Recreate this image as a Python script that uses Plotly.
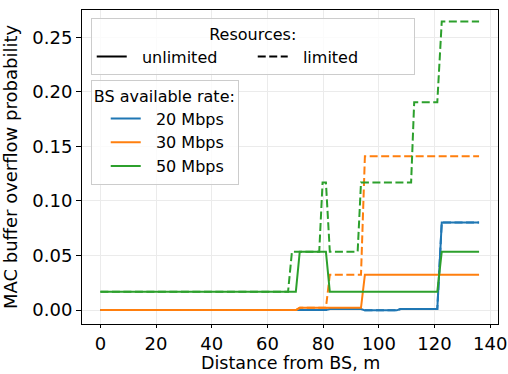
import plotly.graph_objects as go

# ---- data (vertices) ----
x_20_unl = [0, 81.0, 82.4, 93.6, 95.0, 106.4, 107.8, 121.0, 122.6, 136]
y_20_unl = [0, 0, 0.001, 0.001, -0.0003, -0.0003, 0.001, 0.001, 0.0803, 0.0803]
x_20_lim = [0, 81.0, 82.4, 93.6, 95.0, 106.4, 107.8, 121.0, 122.6, 136]
y_20_lim = [0, 0, 0.001, 0.001, -0.0003, -0.0003, 0.001, 0.001, 0.0803, 0.0803]

x_30_unl = [0, 70.2, 71.6, 93.6, 95.0, 136]
y_30_unl = [0, 0, 0.002, 0.002, 0.0324, 0.0324]
x_30_lim = [0, 70.2, 71.6, 81.0, 82.4, 93.6, 95.0, 136]
y_30_lim = [0, 0, 0.002, 0.002, 0.0324, 0.0324, 0.141, 0.141]

x_50_unl = [0, 70.2, 71.6, 81.0, 82.4, 121.0, 122.6, 136]
y_50_unl = [0.0167, 0.0167, 0.0535, 0.0535, 0.0167, 0.0167, 0.0535, 0.0535]
x_50_lim = [0, 67.4, 68.8, 78.6, 79.8, 81.0, 82.4, 92.4, 93.6, 111.6, 112.7, 121.0, 122.6, 136]
y_50_lim = [0.0167, 0.0167, 0.0535, 0.0535, 0.117, 0.117, 0.0535, 0.0535, 0.117, 0.117, 0.1905, 0.1905, 0.2645, 0.2645]

rates = ["20 Mbps", "30 Mbps", "50 Mbps"]
colors = ["#1f77b4", "#ff7f0e", "#2ca02c"]
resources = ["unlimited", "limited"]

x_ticks = [0, 20, 40, 60, 80, 100, 120, 140]
y_ticks = [0.00, 0.05, 0.10, 0.15, 0.20, 0.25]
x_title = "Distance from BS, m"
y_title = "MAC buffer overflow probability"

DASH = "8px,3.5px"
LW = 2
NB = "\u00a0\u00a0"

fig = go.Figure()
series = [
    (x_20_unl, y_20_unl, 0, "solid"), (x_20_lim, y_20_lim, 0, DASH),
    (x_30_unl, y_30_unl, 1, "solid"), (x_30_lim, y_30_lim, 1, DASH),
    (x_50_unl, y_50_unl, 2, "solid"), (x_50_lim, y_50_lim, 2, DASH),
]
for xs, ys, ci, dash in series:
    fig.add_trace(go.Scatter(x=xs, y=ys, mode="lines", showlegend=False,
                             line=dict(color=colors[ci], width=LW, dash=dash)))

# legend entries: resources
for name, dash in zip(resources, ["solid", DASH]):
    fig.add_trace(go.Scatter(x=[None], y=[None], mode="lines", name=NB + name,
                             legend="legend",
                             line=dict(color="black", width=LW, dash=dash)))
# legend entries: rates
for name, c in zip(rates, colors):
    fig.add_trace(go.Scatter(x=[None], y=[None], mode="lines", name=NB + name,
                             legend="legend2",
                             line=dict(color=c, width=LW)))

font = "DejaVu Sans"
fig.update_layout(
    width=508, height=374,
    margin=dict(l=82, r=10, t=10, b=50),
    paper_bgcolor="white", plot_bgcolor="white",
    font=dict(family=font, color="black", size=16),
    legend=dict(
        orientation="h", x=0.021, y=0.975, xanchor="left", yanchor="top",
        title=dict(text="Resources:", side="top center", font=dict(size=16)),
        font=dict(size=16), entrywidth=116,
        bgcolor="rgba(255,255,255,0.8)", bordercolor="#cccccc", borderwidth=1,
    ),
    legend2=dict(
        orientation="v", x=0.021, y=0.778, xanchor="left", yanchor="top",
        title=dict(text="BS available rate:", font=dict(size=16)),
        font=dict(size=16), indentation=14,
        bgcolor="rgba(255,255,255,0.8)", bordercolor="#cccccc", borderwidth=1,
    ),
    annotations=[dict(text=x_title, x=0.5, y=0, xref="paper", yref="paper",
                      xanchor="center", yanchor="top", yshift=-28, borderpad=0,
                      showarrow=False, font=dict(size=17.5))],
)
fig.update_xaxes(
    range=[-6.6, 142.8], tickvals=x_ticks, ticktext=[str(v) for v in x_ticks],
    showgrid=True, gridcolor="#ebebeb", gridwidth=1, zeroline=False,
    showline=True, linecolor="black", linewidth=1, mirror=True,
    ticks="outside", ticklen=3, tickcolor="black", automargin=False,
    tickfont=dict(size=18),
)
fig.update_yaxes(
    range=[-0.0128, 0.275], tickvals=y_ticks, ticktext=[f"{v:.2f}" for v in y_ticks],
    showgrid=True, gridcolor="#ebebeb", gridwidth=1, zeroline=False,
    showline=True, linecolor="black", linewidth=1, mirror=True,
    ticks="outside", ticklen=5, tickcolor="black", automargin=False,
    tickfont=dict(size=18),
    title=dict(text=y_title, font=dict(size=18), standoff=10),
)
fig.write_html("out.html")
